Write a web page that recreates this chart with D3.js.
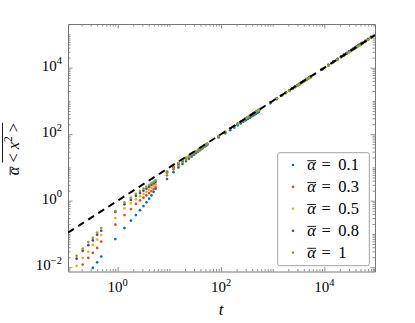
<!DOCTYPE html>
<html>
<head>
<meta charset="utf-8">
<title>alpha x2 vs t</title>
<script src="https://d3js.org/d3.v7.min.js"></script>
<style>
  body { margin: 0; background: #fff; }
  text { font-family: "Liberation Serif", "DejaVu Serif", serif; fill: #000; }
</style>
</head>
<body>
<svg id="chart"></svg>
<script>
// time samples (shared by all series), one run per decade
const tVals = [
  0.16, 0.21, 0.27, 0.33, 0.40, 0.48,
  0.9, 1.35, 1.8, 2.25, 2.7, 3.15, 3.6, 4.05, 4.5, 4.95, 5.4,
  9, 12, 15, 18, 21, 24, 27, 30, 33, 36, 39, 42, 45, 48, 51, 54,
  90, 120, 150, 180, 210, 240, 270, 300, 330, 360, 390, 420, 450, 480, 510, 540,
  900, 1200, 1500, 1800, 2100, 2400, 2700, 3000, 3300, 3600, 3900, 4200, 4500, 4800, 5100, 5400,
  9000, 12000, 15000, 18000, 21000, 24000, 27000, 30000, 33000, 36000, 39000, 42000, 45000, 48000, 51000, 54000, 62000, 70000, 80000
];

const yA01 = [
  0.001, 0.002, 0.005, 0.0095, 0.014, 0.021,
  0.07, 0.15, 0.25, 0.37, 0.52, 0.69, 0.9, 1.15, 1.45, 1.85, 2.3,
  4.5, 7.2, 10, 12.8, 15.6, 18.4, 21.3, 24.2, 27, 30, 33, 36, 39, 42, 45, 48,
  80, 106, 132, 158, 184, 210, 236, 262, 288, 314, 340, 366, 392, 418, 444, 470,
  850, 1140, 1430, 1720, 2010, 2300, 2590, 2880, 3170, 3460, 3750, 4040, 4330, 4620, 4910, 5200,
  8800, 11900, 15000, 18100, 21200, 24300, 27400, 30500, 33600, 36700, 39800, 42900, 46000, 49100, 52200, 55300, 63000, 72000, 83000
];
const yA03 = [
  0.005, 0.012, 0.019, 0.027, 0.038, 0.059,
  0.19, 0.37, 0.56, 0.8, 1.02, 1.23, 1.45, 1.7, 1.95, 2.25, 2.6,
  5.8, 8.8, 11.6, 14.6, 17.4, 20.3, 23.2, 26, 29, 32, 35, 38, 41, 44, 47, 50,
  86, 116, 146, 176, 206, 236, 266, 296, 326, 356, 386, 416, 446, 476, 506, 540,
  880, 1180, 1480, 1780, 2080, 2380, 2680, 2980, 3280, 3580, 3880, 4180, 4480, 4780, 5080, 5380,
  8900, 11900, 14900, 17900, 20900, 23900, 26900, 29900, 32900, 35900, 38900, 41900, 44900, 47900, 50900, 53900, 61500, 70000, 81000
];
const yA05 = [
  0.011, 0.019, 0.029, 0.047, 0.068, 0.093,
  0.30, 0.59, 0.83, 1.1, 1.35, 1.6, 1.85, 2.15, 2.45, 2.75, 3.1,
  6.6, 9.5, 12.4, 15.3, 18.2, 21, 24, 27, 29.8, 32.8, 35.8, 38.8, 41.8, 44.8, 47.8, 50.8,
  87, 117, 146, 175, 205, 235, 264, 294, 323, 353, 383, 412, 442, 471, 501, 531,
  870, 1160, 1450, 1740, 2030, 2320, 2610, 2900, 3190, 3480, 3770, 4060, 4350, 4640, 4930, 5220,
  8800, 11800, 14800, 17800, 20800, 23800, 26800, 29800, 32800, 35800, 38800, 41800, 44800, 47800, 50800, 53800, 61000, 69000, 80000
];
const yA08 = [
  0.018, 0.031, 0.046, 0.064, 0.095, 0.125,
  0.46, 0.78, 1.05, 1.4, 1.7, 2.0, 2.3, 2.65, 3.0, 3.3, 3.7,
  7.2, 10.1, 13, 16, 19, 21.8, 24.8, 27.6, 30.5, 33.5, 36.5, 39.5, 42.5, 45.5, 48.5, 51.5,
  87, 116, 146, 175, 204, 233, 262, 292, 321, 350, 380, 409, 438, 468, 497, 527,
  890, 1190, 1490, 1790, 2090, 2390, 2690, 2990, 3290, 3590, 3890, 4190, 4490, 4790, 5090, 5390,
  9100, 12200, 15300, 18400, 21500, 24600, 27700, 30800, 33900, 37000, 40100, 43200, 46300, 49400, 52500, 55600, 64000, 73000, 85000
];
const yA1 = [
  0.022, 0.036, 0.057, 0.077, 0.11, 0.15,
  0.49, 0.89, 1.23, 1.6, 1.95, 2.3, 2.65, 3.0, 3.35, 3.7, 4.1,
  7.6, 10.5, 13.5, 16.4, 19.3, 22.3, 25.1, 28, 31, 34, 37, 40, 43, 46, 49, 52,
  88, 117, 147, 176, 205, 234, 263, 293, 322, 351, 381, 410, 440, 469, 498, 528,
  880, 1170, 1460, 1750, 2040, 2330, 2620, 2910, 3200, 3490, 3780, 4070, 4360, 4650, 4940, 5230,
  8700, 11600, 14500, 17400, 20300, 23200, 26100, 29000, 31900, 34800, 37700, 40600, 43500, 46400, 49300, 52200, 60000, 68000, 79000
];

const alphaLabels = ["0.1", "0.3", "0.5", "0.8", "1"];
const colors = ["#0072BD", "#D95319", "#EDB120", "#7E2F8E", "#77AC30"];
const seriesY = [yA01, yA03, yA05, yA08, yA1];

const xMajor = [1, 100, 10000];
const xMajorExp = ["0", "2", "4"];
const yMajor = [0.01, 1, 100, 10000];
const yMajorExp = ["\u22122", "0", "2", "4"];

// ---- layout
const W = 415, H = 323;
const svg = d3.select("#chart").attr("width", W).attr("height", H);

const x = d3.scaleLog().domain([0.1091, 95500]).range([68, 375]);
const y = d3.scaleLog().domain([0.00743, 206000]).range([271.5, 24]);

svg.append("clipPath").attr("id", "plotclip")
  .append("rect").attr("x", 68).attr("y", 24).attr("width", 307).attr("height", 247.5);

// minor ticks between decades
function minors(scale, major) {
  const d = scale.domain(), out = [];
  for (let e = Math.floor(Math.log10(d[0])); e <= Math.ceil(Math.log10(d[1])); e++) {
    for (let k = 1; k < 10; k++) {
      const v = k * Math.pow(10, e);
      if (v >= d[0] && v <= d[1] && !major.some(m => Math.abs(m - v) / v < 1e-9)) out.push(v);
    }
  }
  return out;
}

const axisColor = "#777";
function styleAxis(g) {
  g.select(".domain").attr("stroke", axisColor).attr("stroke-width", 1);
  g.selectAll(".tick line").attr("stroke", axisColor).attr("stroke-width", 0.8);
}

const axes = svg.append("g");
[[d3.axisBottom, x, "translate(0,271.5)"], [d3.axisTop, x, "translate(0,24)"]].forEach(([f, s, tr]) => {
  axes.append("g").attr("transform", tr)
    .call(f(s).tickValues(xMajor).tickSize(-4.5).tickSizeOuter(0).tickFormat(""))
    .call(styleAxis);
  axes.append("g").attr("transform", tr)
    .call(f(s).tickValues(minors(x, xMajor)).tickSize(-2.5).tickSizeOuter(0).tickFormat(""))
    .call(g => g.select(".domain").remove())
    .call(styleAxis);
});
[[d3.axisLeft, y, "translate(68,0)"], [d3.axisRight, y, "translate(375,0)"]].forEach(([f, s, tr]) => {
  axes.append("g").attr("transform", tr)
    .call(f(s).tickValues(yMajor).tickSize(-4.5).tickSizeOuter(0).tickFormat(""))
    .call(styleAxis);
  axes.append("g").attr("transform", tr)
    .call(f(s).tickValues(minors(y, yMajor)).tickSize(-2.5).tickSizeOuter(0).tickFormat(""))
    .call(g => g.select(".domain").remove())
    .call(styleAxis);
});

// tick labels  10^n
xMajor.forEach((v, i) => {
  const t = svg.append("text").attr("x", x(v)).attr("y", 292)
    .attr("text-anchor", "middle").style("font-size", "15px");
  t.append("tspan").text("10");
  t.append("tspan").attr("dy", -6.5).style("font-size", "10.5px").text(xMajorExp[i]);
});
yMajor.forEach((v, i) => {
  const t = svg.append("text").attr("x", 62).attr("y", y(v) + 3)
    .attr("text-anchor", "end").style("font-size", "15px");
  t.append("tspan").text("10");
  t.append("tspan").attr("dy", -6.5).style("font-size", "10.5px").text(yMajorExp[i]);
});

// points
const plot = svg.append("g").attr("clip-path", "url(#plotclip)");
seriesY.forEach((ys, s) => {
  plot.append("g").attr("fill", colors[s])
    .selectAll("circle")
    .data(tVals.map((t, i) => [t, ys[i]]))
    .join("circle")
    .attr("cx", d => x(d[0]))
    .attr("cy", d => y(d[1]))
    .attr("r", 1.35);
});

// reference line  y = t
plot.append("path")
  .datum(x.domain())
  .attr("fill", "none")
  .attr("stroke", "#000")
  .attr("stroke-width", 2)
  .attr("stroke-dasharray", "7,5")
  .attr("d", d3.line().x(d => x(d)).y(d => y(d)));

// overline helper, draws bar over chars [i0, i1] of a text element
function overline(parent, textEl, i0, i1, yOff) {
  const a = textEl.getExtentOfChar(i0), b = textEl.getExtentOfChar(i1);
  parent.append("line")
    .attr("x1", a.x).attr("x2", b.x + b.width)
    .attr("y1", yOff).attr("y2", yOff)
    .attr("stroke", "#000").attr("stroke-width", 0.9);
}

// legend
const lg = svg.append("g");
lg.append("rect")
  .attr("x", 277.7).attr("y", 152.7).attr("width", 91.6).attr("height", 113)
  .attr("rx", 2)
  .attr("fill", "#fff").attr("fill-opacity", 0.85)
  .attr("stroke", "#999").attr("stroke-width", 0.9);
alphaLabels.forEach((lab, i) => {
  const cy = 165 + i * 21.9;
  const row = lg.append("g").attr("transform", `translate(0,${cy})`);
  row.append("circle").attr("cx", 293).attr("cy", 0).attr("r", 1.3).attr("fill", colors[i]);
  const a = row.append("text").attr("x", 307.3).attr("y", 5).style("font-size", "16.5px")
    .style("font-style", "italic").text("\u03b1");
  overline(row, a.node(), 0, 0, -4.3);
  row.append("text").attr("x", 321.5).attr("y", 5).style("font-size", "16.5px").text("=");
  row.append("text").attr("x", 338.3).attr("y", 5).style("font-size", "16.5px").text(lab);
});

// axis titles
svg.append("text").attr("x", 221).attr("y", 315).attr("text-anchor", "middle")
  .style("font-size", "17px").style("font-style", "italic").text("t");

const yl = svg.append("g").attr("transform", "translate(18.5,149) rotate(-90)");
const ylt = yl.append("text").attr("x", 0).attr("y", 0).attr("text-anchor", "middle")
  .style("font-size", "16.5px");
ylt.append("tspan").style("font-style", "italic").text("\u03b1");
ylt.append("tspan").attr("dx", 4).text("<");
ylt.append("tspan").attr("dx", 4).style("font-style", "italic").text("x");
ylt.append("tspan").attr("dy", -6.5).style("font-size", "11.5px").text("2");
ylt.append("tspan").attr("dy", 6.5).attr("dx", 4).text(">");
overline(yl, ylt.node(), 0, 0, -8.3);
overline(yl, ylt.node(), 1, 4, -16);
</script>
</body>
</html>
